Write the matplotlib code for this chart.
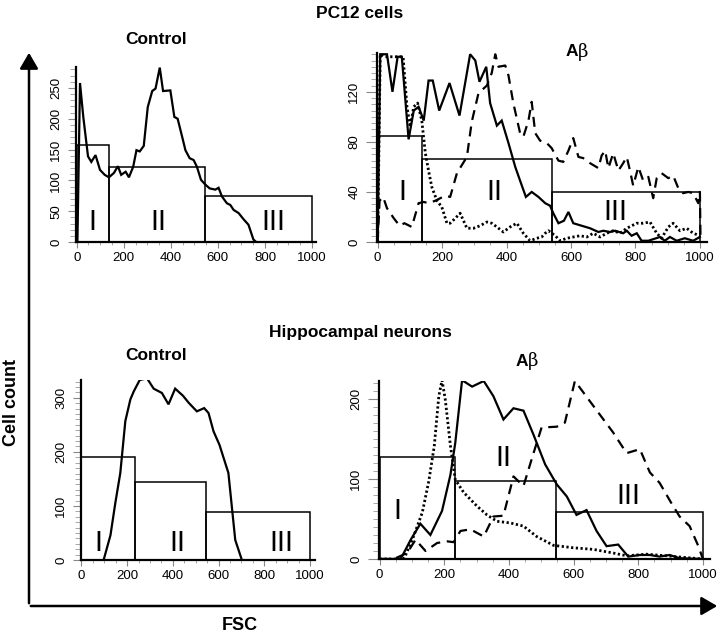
import matplotlib
matplotlib.use("Agg")
import matplotlib.pyplot as plt
from matplotlib.ticker import FixedLocator, MultipleLocator
import numpy as np

plt.rcParams['font.family'] = ['Liberation Sans', 'DejaVu Sans']

# ---------------- data ----------------
# PC12 control
pc_ctrl_x = [3, 14, 28, 48, 62, 80, 99, 119, 137, 158, 175, 189, 208, 222, 240, 254, 268, 285,
             302, 321, 335, 353, 367, 398, 415, 429, 448, 462, 480, 497, 511, 528, 547, 565,
             589, 603, 617, 638, 653, 667, 688, 709, 730, 751, 763]
pc_ctrl_y = [0, 258, 203, 139, 130, 141, 117, 109, 105, 112, 123, 109, 114, 105, 122, 149, 147, 156,
             219, 245, 249, 283, 245, 246, 203, 200, 171, 149, 136, 133, 122, 101, 93, 87,
             85, 88, 74, 63, 60, 52, 47, 37, 28, 4, 0]
pc_ctrl_gate_left = [0, 137, 544]
pc_ctrl_gate_width = [137, 407, 456]
pc_ctrl_gate_height = [158, 122, 75]

# PC12 Abeta
pc_ab_solid_x = [0, 8, 29, 46, 62, 75, 96, 112, 127, 143, 158, 171, 191, 223, 254, 287, 303, 316,
                 337, 349, 370, 385, 406, 427, 442, 460, 478, 499, 520, 535, 545, 561, 578, 592,
                 607, 633, 659, 685, 700, 721, 737, 762, 773, 788, 804, 819, 840, 876, 891, 907,
                 928, 953, 979, 1000]
pc_ab_solid_y = [0, 150, 150, 120, 148, 148, 82, 105, 108, 97, 129, 129, 105, 127, 101, 150, 145, 128,
                 140, 111, 93, 97, 79, 60, 49, 36, 40, 36, 31, 29, 23, 15, 17, 24,
                 15, 13, 11, 8, 9, 8, 9, 7, 9, 5, 7, 1, 1, 4, 1, 4,
                 1, 3, 1, 4]
pc_ab_dash_x = [0, 6, 17, 29, 50, 68, 83, 106, 127, 143, 158, 179, 210, 225, 246, 277, 292, 313,
                339, 354, 365, 375, 396, 406, 421, 442, 452, 468, 478, 489, 504, 525, 540, 561,
                576, 592, 607, 623, 638, 659, 685, 695, 706, 716, 731, 747, 762, 773, 783, 793,
                809, 824, 840, 855, 866, 881, 902, 917, 933, 948, 964, 979, 995, 1000, 1002]
pc_ab_dash_y = [0, 33, 36, 27, 19, 13, 15, 12, 31, 32, 31, 33, 37, 36, 55, 68, 96, 119,
                125, 135, 150, 140, 141, 133, 111, 87, 84, 97, 112, 87, 81, 79, 75, 65,
                64, 73, 83, 68, 67, 63, 59, 69, 73, 59, 71, 57, 63, 68, 57, 45,
                60, 49, 52, 35, 51, 55, 51, 53, 43, 39, 40, 39, 31, 40, 0]
pc_ab_dot_x = [0, 8, 24, 50, 79, 91, 101, 112, 124, 137, 148, 158, 168, 184, 199, 215, 225, 241,
               256, 277, 298, 318, 339, 354, 370, 390, 411, 432, 452, 473, 494, 509, 520, 530,
               551, 566, 587, 607, 628, 649, 669, 690, 711, 731, 752, 773, 804, 824, 845, 866,
               881, 902, 917, 938, 959, 979, 1000]
pc_ab_dot_y = [0, 150, 148, 148, 148, 108, 92, 108, 111, 97, 71, 57, 44, 33, 28, 15, 15, 19,
               23, 11, 11, 13, 16, 15, 12, 8, 12, 15, 7, 1, 3, 4, 7, 9,
               5, 1, 3, 4, 5, 4, 7, 4, 7, 9, 7, 11, 15, 15, 16, 7,
               3, 12, 15, 9, 11, 7, 5]
pc_ab_gate_left = [0, 137, 542]
pc_ab_gate_width = [137, 405, 458]
pc_ab_gate_height = [85, 66, 40]

# Hippocampal control
hc_ctrl_x = [97, 127, 148, 170, 192, 214, 229, 255, 287, 316, 352, 381, 410, 444, 469, 505, 537,
             556, 578, 604, 622, 643, 658, 673, 702]
hc_ctrl_y = [0, 46, 105, 161, 257, 297, 312, 333, 336, 317, 309, 288, 317, 304, 291, 275, 281,
             272, 238, 213, 189, 161, 99, 37, 0]
hc_ctrl_gate_left = [0, 236, 546]
hc_ctrl_gate_width = [236, 310, 454]
hc_ctrl_gate_height = [190, 145, 88]

# Hippocampal Abeta
hc_ab_solid_x = [0, 65, 96, 126, 157, 193, 219, 234, 255, 286, 322, 352, 383, 414, 445, 476, 512,
                 548, 579, 609, 640, 671, 702, 738, 769, 805, 836, 866, 897, 928, 1000]
hc_ab_solid_y = [0, 0, 24, 44, 30, 60, 105, 145, 223, 215, 222, 203, 174, 188, 185, 155, 118,
                 93, 78, 55, 61, 35, 16, 18, 3, 5, 5, 3, 5, 1, 0]
hc_ab_dot_x = [0, 75, 101, 132, 152, 169, 183, 193, 203, 219, 234, 260, 301, 332, 363, 404, 445,
               486, 538, 599, 661, 722, 764, 825, 887, 928, 1000]
hc_ab_dot_y = [0, 0, 24, 58, 97, 141, 203, 223, 199, 141, 99, 83, 66, 55, 47, 45, 41,
               28, 17, 14, 12, 7.5, 4, 6, 4, 2.5, 0]
hc_ab_dash_x = [0, 44, 85, 111, 142, 178, 209, 229, 250, 281, 322, 352, 383, 414, 445, 476, 501,
                548, 573, 604, 661, 722, 764, 805, 836, 866, 902, 928, 959, 986, 1000]
hc_ab_dash_y = [0, 0, 7.5, 24, 10, 20, 22, 21, 35, 37, 28, 53, 54, 103, 91, 132, 164,
                165, 170, 222, 191, 158, 132, 137, 108, 95, 70, 53, 41, 16, 0]
hc_ab_gate_left = [0, 232, 545]
hc_ab_gate_width = [232, 313, 455]
hc_ab_gate_height = [127, 97, 59]

gate_labels = ["I", "II", "III"]

# ---------------- figure ----------------
W, H = 720, 640
fig = plt.figure(figsize=(7.2, 6.4), dpi=100)


def fx(px):
    return px / W


def fy(py):
    return 1 - py / H


def make_ax(left, right, top, bottom):
    return fig.add_axes([fx(left), fy(bottom), fx(right) - fx(left), fy(top) - fy(bottom)])


SOLID = dict(color='black', lw=1.6, ls='-', solid_joinstyle='miter')
DASH = dict(color='black', lw=1.6, ls=(0, (4.5, 3.0)))
DOT = dict(color='black', lw=2.0, ls=(0, (0.8, 0.9)), dash_capstyle='butt')


def style(ax, xlim, ylim, yticks, yminor, ymajor_len):
    ax.set_xlim(*xlim)
    ax.set_ylim(*ylim)
    for s in ['top', 'right']:
        ax.spines[s].set_visible(False)
    ax.spines['left'].set_linewidth(1.6)
    ax.spines['bottom'].set_linewidth(1.6)
    ax.set_facecolor('none')
    ax.xaxis.set_major_locator(FixedLocator([0, 200, 400, 600, 800, 1000]))
    ax.xaxis.set_minor_locator(MultipleLocator(50))
    ax.yaxis.set_major_locator(FixedLocator(yticks))
    ax.yaxis.set_minor_locator(MultipleLocator(yminor))
    ax.tick_params(axis='x', which='major', length=4, width=0.8, color='#888888',
                   labelsize=9.5, pad=3)
    ax.tick_params(axis='x', which='minor', length=2.5, width=0.6, color='#999999')
    ax.tick_params(axis='y', which='major', length=ymajor_len, width=0.8, color='#888888',
                   labelsize=9.5, pad=4, labelrotation=90)
    ax.tick_params(axis='y', which='minor', length=4, width=0.6, color='#999999')
    for lab in ax.get_yticklabels():
        lab.set_va('center')


def gates(ax, left, width, height, label_pos):
    ax.bar(left, height, width=width, align='edge', fill=False, edgecolor='black',
           linewidth=1.1, zorder=1)
    for lab, (x, y) in zip(gate_labels, label_pos):
        ax.text(x, y, lab, ha='center', va='center', fontsize=21, family='Liberation Sans',
                zorder=5)


# --- PC12 control ---
ax1 = make_ax(76, 316, 67, 242)
style(ax1, (-3, 1017), (0, 284), [0, 50, 100, 150, 200, 250], 10, 6)
gates(ax1, pc_ctrl_gate_left, pc_ctrl_gate_width, pc_ctrl_gate_height,
      [(66, 33), (345, 33), (836, 33)])
ax1.plot(pc_ctrl_x, pc_ctrl_y, **SOLID, zorder=3)

# --- PC12 Abeta ---
ax2 = make_ax(377, 707, 53, 242)
style(ax2, (-2, 1022), (0, 151), [0, 40, 80, 120], 5, 8)
gates(ax2, pc_ab_gate_left, pc_ab_gate_width, pc_ab_gate_height,
      [(77, 40), (362, 40), (737, 24)])
ax2.plot(pc_ab_dash_x, pc_ab_dash_y, **DASH, zorder=3)
ax2.plot(pc_ab_dot_x, pc_ab_dot_y, **DOT, zorder=3)
ax2.plot(pc_ab_solid_x, pc_ab_solid_y, **SOLID, zorder=4)

# --- Hippocampal control ---
ax3 = make_ax(81, 315, 380, 560)
style(ax3, (-2, 1022), (0, 333), [0, 100, 200, 300], 10, 6)
gates(ax3, hc_ctrl_gate_left, hc_ctrl_gate_width, hc_ctrl_gate_height,
      [(73, 32), (418, 32), (873, 32)])
ax3.plot(hc_ctrl_x, hc_ctrl_y, **SOLID, zorder=3)

# --- Hippocampal Abeta ---
ax4 = make_ax(379, 710, 381, 559)
style(ax4, (-2, 1022), (0, 222), [0, 100, 200], 10, 8)
gates(ax4, hc_ab_gate_left, hc_ab_gate_width, hc_ab_gate_height,
      [(54, 60), (383, 126), (769, 78)])
ax4.plot(hc_ab_dash_x, hc_ab_dash_y, **DASH, zorder=3)
ax4.plot(hc_ab_dot_x, hc_ab_dot_y, **DOT, zorder=3)
ax4.plot(hc_ab_solid_x, hc_ab_solid_y, **SOLID, zorder=4)

# ---------------- titles ----------------
TB = dict(fontsize=12.5, fontweight='bold', ha='center', va='center')
fig.text(fx(360), fy(13), "PC12 cells", **TB)
fig.text(fx(156), fy(40), "Control", **TB)
fig.text(fx(360), fy(332), "Hippocampal neurons", **TB)
fig.text(fx(156), fy(356), "Control", **TB)


def abeta(xc, yc):
    fig.text(fx(xc), fy(yc), "A", fontsize=12.5, fontweight='bold', ha='right', va='center')
    fig.text(fx(xc), fy(yc), "\u03b2", fontsize=13, fontweight='normal', ha='left', va='center',
             family=['DejaVu Serif', 'Liberation Serif'])


abeta(578, 52)
abeta(528, 361)

# ---------------- big axes arrows ----------------
fig.add_artist(matplotlib.patches.FancyArrowPatch(
    (fx(29), fy(606)), (fx(29), fy(50)), transform=fig.transFigure,
    arrowstyle='-|>,head_length=6,head_width=3.5', color='black', lw=1.8, mutation_scale=1.6))
fig.add_artist(matplotlib.patches.FancyArrowPatch(
    (fx(28), fy(606)), (fx(720), fy(606)), transform=fig.transFigure,
    arrowstyle='-|>,head_length=6,head_width=3.5', color='black', lw=1.8, mutation_scale=1.6))

fig.text(fx(12), fy(403), "Cell count", fontsize=13, fontweight='bold', rotation=90,
         ha='center', va='center')
fig.text(fx(240), fy(626), "FSC", fontsize=13, fontweight='bold', ha='center', va='center')

fig.savefig("out.png", dpi=100)
